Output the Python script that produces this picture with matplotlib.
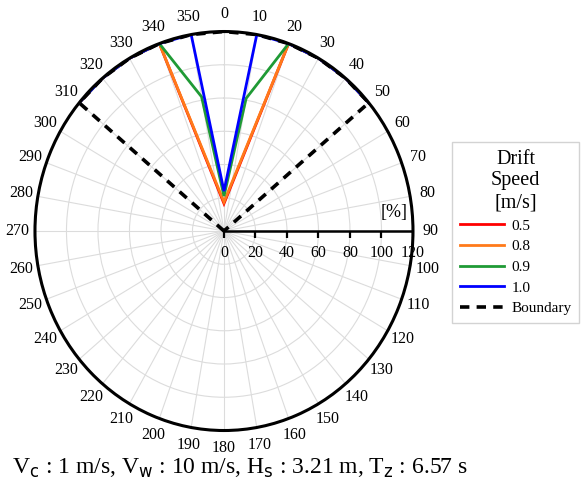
import numpy as np
import matplotlib
matplotlib.use("Agg")
import matplotlib.pyplot as plt

plt.rcParams['font.family'] = ['Liberation Serif', 'DejaVu Serif']
plt.rcParams['mathtext.fontset'] = 'dejavusans'

# ---- data ----
angle_ticks = list(range(0, 360, 10))
angle_labels = [str(a) for a in angle_ticks]
r_ticks = [0, 20, 40, 60, 80, 100, 120]
r_tick_labels = [str(v) for v in r_ticks]

speed_labels = ['0.5', '0.8', '0.9', '1.0']
speed_colors = ['#ff0000', '#ff7a1a', '#1f9a35', '#0000ff']

theta_05 = [310, 320, 330, 340, 0, 20, 30, 40, 50]
r_05 = [120, 120, 120, 120, 16.5, 120, 120, 120, 120]
theta_08 = [310, 320, 330, 340, 0, 20, 30, 40, 50]
r_08 = [120, 120, 120, 120, 17.5, 120, 120, 120, 120]
theta_09 = [310, 320, 330, 340, 350, 0, 10, 20, 30, 40, 50]
r_09 = [120, 120, 120, 120, 82, 21, 81, 120, 120, 120, 120]
theta_10 = [310, 320, 330, 340, 350, 0, 10, 20, 30, 40, 50]
r_10 = [120, 120, 120, 120, 120, 24, 120, 120, 120, 120, 120]

boundary_theta = [310, 310, 320, 330, 340, 350, 0, 10, 20, 30, 40, 50, 50]
boundary_r = [0, 120, 120, 120, 120, 120, 120, 120, 120, 120, 120, 120, 0]

series = [(theta_05, r_05), (theta_08, r_08), (theta_09, r_09), (theta_10, r_10)]

# ---- figure ----
fig = plt.figure(figsize=(5.82, 4.88), dpi=100)
ax = fig.add_axes([0.0601, 0.1178, 0.6495, 0.8176], projection='polar')
ax.set_aspect('auto')
ax.set_theta_zero_location('N')
ax.set_theta_direction(-1)
ax.set_rlim(0, 120)

for i, ((th, rr), lab, col) in enumerate(zip(series, speed_labels, speed_colors)):
    ax.plot(np.deg2rad(th), rr, color=col, lw=2.0, label=lab, zorder=3 + i,
            solid_joinstyle='miter')

ax.plot(np.deg2rad(boundary_theta), boundary_r, color='black', lw=2.6,
        linestyle=(0, (2.6, 2.0)), label='Boundary', zorder=8)

# grid
ax.set_thetagrids(angle_ticks, angle_labels, fontsize=11.5)
ax.set_rticks(r_ticks[1:-1])
ax.set_yticklabels([])
ax.grid(True, color='#dcdcdc', lw=0.8)
ax.tick_params(axis='x', pad=2)
ax.spines['polar'].set_linewidth(2.2)
ax.spines['polar'].set_color('black')
ax.spines['polar'].set_zorder(10)

# radial axis along 90 deg
ax.plot([np.pi / 2, np.pi / 2], [0, 120], color='black', lw=1.8, zorder=9)
ax.plot([np.pi / 2] * len(r_ticks), r_ticks, linestyle='none', marker=3,
        markersize=5, markeredgewidth=1.6, color='black', zorder=9)
for rv, lbl in zip(r_ticks, r_tick_labels):
    ax.annotate(lbl, xy=(np.pi / 2, rv), xytext=(0, -16), textcoords='offset points',
                ha='center', va='center', fontsize=11.5, zorder=11)
ax.annotate('[%]', xy=(np.pi / 2, 108), xytext=(0, 13), textcoords='offset points',
            ha='center', va='center', fontsize=13, zorder=11)

leg = fig.legend(loc='upper left', bbox_to_anchor=(0.7766, 0.709),
                 borderaxespad=0,
                 title='Drift\nSpeed\n[m/s]', fontsize=11, title_fontsize=14.5,
                 frameon=True, fancybox=False, edgecolor='#c8c8c8',
                 handlelength=2.9, borderpad=0.5, labelspacing=0.45,
                 handletextpad=0.5)
leg.get_frame().set_linewidth(1.0)
leg.get_title().set_multialignment('center')
leg._legend_box.align = 'center'

fig.text(0.02, 0.04,
         r'V$_\mathsf{c}$ : 1 m/s, V$_\mathsf{w}$ : 10 m/s, H$_\mathsf{s}$ : 3.21 m, T$_\mathsf{z}$ : 6.57 s',
         fontsize=17, ha='left', va='center')

fig.savefig('out.png', dpi=100)
